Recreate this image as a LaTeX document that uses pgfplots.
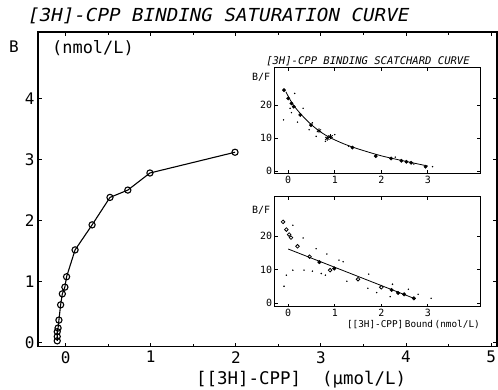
\documentclass[border=0pt]{standalone}
\usepackage{pgfplots}
\pgfplotsset{compat=1.18}
\usepackage{graphicx}
\usepackage{fontspec}
\setmainfont{DejaVu Sans}
\newfontfamily\mono{DejaVu Sans Mono}
\begin{document}
\begin{tikzpicture}
\useasboundingbox (0,0) rectangle (498bp,-390bp);
% main axis
\begin{axis}[at={(38bp,-346.7bp)}, anchor=south west, scale only axis,
  width=459bp, height=314.7bp,
  xmin=-0.326, xmax=5.07, ymin=-0.066, ymax=5.09,
  xtick={0,1,2,3,4,5}, ytick={0,1,2,3,4},
  minor x tick num=1,
  tick align=inside, major tick length=4bp, minor tick length=2.5bp,
  axis line style={line width=1.3pt}, tick style={line width=0.9pt, black},
  /pgf/number format/assume math mode=true,
  tick label style={font=\mono\fontsize{16}{16}\selectfont},
  xticklabel style={yshift=-1bp},
  clip=false]
\addplot[black, line width=1.1pt, mark=o, mark size=3.1bp, mark options={line width=1.1pt, fill=white}] coordinates {
(-0.10,0.03) (-0.10,0.10) (-0.10,0.18) (-0.09,0.24) (-0.08,0.37) (-0.06,0.62) (-0.04,0.80) (-0.01,0.91) (0.01,1.08) (0.11,1.52) (0.31,1.93) (0.52,2.38) (0.73,2.50) (0.99,2.78) (1.99,3.12)};
\end{axis}
% titles and labels
\node[anchor=base west, inner sep=0] at (28bp,-21bp) {\scalebox{1.07}[1]{\mono\itshape\fontsize{18}{18}\selectfont [3H]-CPP BINDING SATURATION CURVE}};
\node[anchor=base west, inner sep=0] at (9bp,-52bp) {\mono\fontsize{16}{16}\selectfont B};
\node[anchor=base west, inner sep=0] at (52bp,-53bp) {\mono\fontsize{17}{17}\selectfont (nmol/L)};
\node[anchor=base west, inner sep=0] at (196bp,-384bp) {\mono\fontsize{17.5}{17.5}\selectfont [[3H]-CPP]\ \ (µmol/L)};
% inset 1
\begin{axis}[at={(274.7bp,-173.3bp)}, anchor=south west, scale only axis,
  width=205.3bp, height=105.6bp,
  xmin=-0.29, xmax=4.12, ymin=-0.7, ymax=31.3,
  xtick={0,1,2,3}, ytick={0,10,20},
  tick align=inside, major tick length=3bp,
  axis line style={line width=1pt}, tick style={line width=0.8pt, black},
  axis background/.style={fill=white},
  /pgf/number format/assume math mode=true,
  tick label style={font=\mono\fontsize{10}{10}\selectfont},
  xticklabel style={yshift=1bp}, yticklabel style={xshift=1bp},
  clip=false]
\addplot[black, line width=0.8pt, smooth] coordinates {
(-0.05,24.0) (0.1,20.2) (0.3,16.8) (0.5,14.0) (0.7,11.8) (0.9,10.1) (1.2,8.2) (1.5,6.7) (2.0,4.6) (2.5,3.0) (3.0,1.5)};
\addplot[only marks, mark=*, mark size=1.7bp] coordinates {
(-0.09,24.5) (0.0,22.0) (0.07,20.5) (0.12,19.5) (0.26,17.0) (0.49,13.9) (1.38,7.1) (1.88,4.5) (2.21,3.8) (2.43,3.1) (2.54,2.8) (2.64,2.5) (2.95,1.3)};
\addplot[only marks, mark=asterisk, mark size=2.5bp, mark options={line width=0.8pt}] coordinates {
(0.66,12.2) (0.84,9.9) (0.91,10.4)};
\addplot[only marks, mark=*, mark size=0.5bp] coordinates {
(-0.10,15.5) (0.04,19.0) (0.14,23.5) (0.32,19.0) (0.07,17.7) (0.52,14.6) (0.6,10.5) (0.8,9.0) (3.1,1.3) (0.2,14.8) (1.0,11.0) (0.45,12.5) (1.3,7.5) (2.3,4.2) (2.7,2.1)};
\end{axis}
\node[anchor=base, inner sep=0] at (368bp,-64bp) {\mono\itshape\fontsize{10.6}{10.6}\selectfont [3H]-CPP BINDING SCATCHARD CURVE};
\node[anchor=base west, inner sep=0] at (252bp,-80bp) {\mono\fontsize{10}{10}\selectfont B/F};
% inset 2
\begin{axis}[at={(274.7bp,-306.7bp)}, anchor=south west, scale only axis,
  width=205.3bp, height=110bp,
  xmin=-0.29, xmax=4.12, ymin=-1.0, ymax=31.8,
  xtick={0,1,2,3}, ytick={0,10,20},
  tick align=inside, major tick length=3bp,
  axis line style={line width=1pt}, tick style={line width=0.8pt, black},
  axis background/.style={fill=white},
  /pgf/number format/assume math mode=true,
  tick label style={font=\mono\fontsize{10}{10}\selectfont},
  xticklabel style={yshift=1bp}, yticklabel style={xshift=1bp},
  clip=false]
\addplot[black, line width=0.8pt] coordinates {(0.0,16.2) (2.70,1.5)};
\addplot[only marks, mark=o, mark size=1.8bp, mark options={line width=0.8pt, fill=white}] coordinates {
(-0.11,24.3) (-0.04,22.0) (0.02,20.5) (0.06,19.6) (0.20,17.0) (0.46,13.9) (0.90,9.9) (1.50,7.2) (2.0,4.8)};
\addplot[only marks, mark=*, mark size=1.8bp] coordinates {
(0.67,12.3) (0.99,10.4) (2.22,4.0) (2.36,3.1) (2.49,2.7) (2.70,1.5)};
\addplot[only marks, mark=*, mark size=0.5bp] coordinates {
(-0.09,5.1) (-0.04,8.4) (0.1,9.9) (0.1,23.3) (0.32,19.5) (0.34,9.9) (0.52,9.6) (0.6,16.3) (0.83,14.7) (0.71,8.9) (0.8,8.4) (1.09,12.9) (1.18,12.4) (1.26,6.6) (1.73,8.7) (1.71,4.5) (1.9,3.2) (2.24,5.7) (2.58,4.2) (2.19,2.0) (2.79,2.7) (3.07,1.5)};
\end{axis}
\node[anchor=base west, inner sep=0] at (252bp,-213bp) {\mono\fontsize{10}{10}\selectfont B/F};
\node[anchor=base east, inner sep=0] at (480bp,-327bp) {\mono\fontsize{9.4}{9.4}\selectfont [[3H]-CPP]\,Bound\,(nmol/L)};
\end{tikzpicture}
\end{document}
